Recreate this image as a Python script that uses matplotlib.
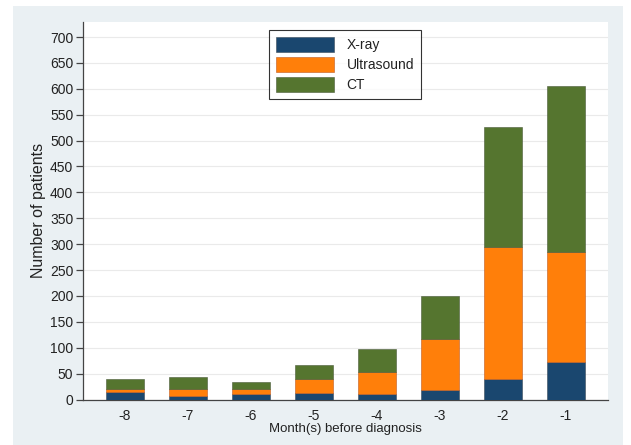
import matplotlib.pyplot as plt
import matplotlib.patches as mpatches
import numpy as np

plt.rcParams['font.family'] = ['Liberation Sans', 'DejaVu Sans']
plt.rcParams['text.color'] = '#222222'
plt.rcParams['axes.labelcolor'] = '#222222'

months = [-8, -7, -6, -5, -4, -3, -2, -1]
xray = [15, 6, 10, 13, 11, 18, 40, 73]
ultrasound = [5, 15, 11, 26, 43, 98, 254, 211]
ct = [20, 23, 13, 28, 44, 84, 233, 322]

c_xray = "#1a476f"
c_us = "#ff7f0a"
c_ct = "#55752f"

fig = plt.figure(figsize=(6.31, 4.45), dpi=100)
fig.patch.set_facecolor("white")
bg = mpatches.Rectangle((13 / 631, 0), 610 / 631, 439 / 445,
                        transform=fig.transFigure, facecolor="#eaf0f3",
                        edgecolor="none", zorder=-10)
fig.add_artist(bg)

ax = fig.add_axes([83 / 631, 1 - 399.5 / 445, 525 / 631, 377.5 / 445])
ax.set_zorder(1)
ax.set_facecolor("white")

x = np.array(months)
w = 0.59
b1 = np.array(xray)
b2 = b1 + np.array(ultrasound)
ax.bar(x, xray, width=w, color=c_xray, edgecolor="#3a4a5a", linewidth=0.4, label="X-ray", zorder=3)
ax.bar(x, ultrasound, width=w, bottom=b1, color=c_us, edgecolor="#c05a20", linewidth=0.4, label="Ultrasound", zorder=3)
ax.bar(x, ct, width=w, bottom=b2, color=c_ct, edgecolor="#4a5a3a", linewidth=0.4, label="CT", zorder=3)

ax.set_xlim(-8.667, -0.333)
ax.set_ylim(0, 729)
ax.set_yticks(np.arange(0, 701, 50))
ax.set_xticks(months)
ax.set_xticklabels([str(m) for m in months])
ax.grid(axis="y", color="#eaeaea", linewidth=0.8, zorder=0)
ax.set_axisbelow(True)

for s in ["top", "right"]:
    ax.spines[s].set_visible(False)
ax.spines["left"].set_color("#444444")
ax.spines["bottom"].set_color("#444444")
ax.spines["left"].set_linewidth(0.9)
ax.spines["bottom"].set_linewidth(0.9)

ax.tick_params(axis="y", length=5, width=0.9, color="#444444", labelsize=10, pad=2,
               labelcolor="#222222")
ax.tick_params(axis="x", length=0, labelsize=10, pad=7, labelcolor="#222222")

ax.set_ylabel("Number of patients", fontsize=11.5, labelpad=3)
ax.set_xlabel("Month(s) before diagnosis", fontsize=9.5, labelpad=0)

leg = ax.legend(loc="upper center", bbox_to_anchor=(0.499, 0.998), frameon=True, fancybox=False,
                edgecolor="black", fontsize=10, handlelength=4.2, handleheight=1.3,
                borderpad=0.5, labelspacing=0.35, handletextpad=0.9)
leg.get_frame().set_linewidth(0.8)

fig.savefig("out.png", dpi=100)
